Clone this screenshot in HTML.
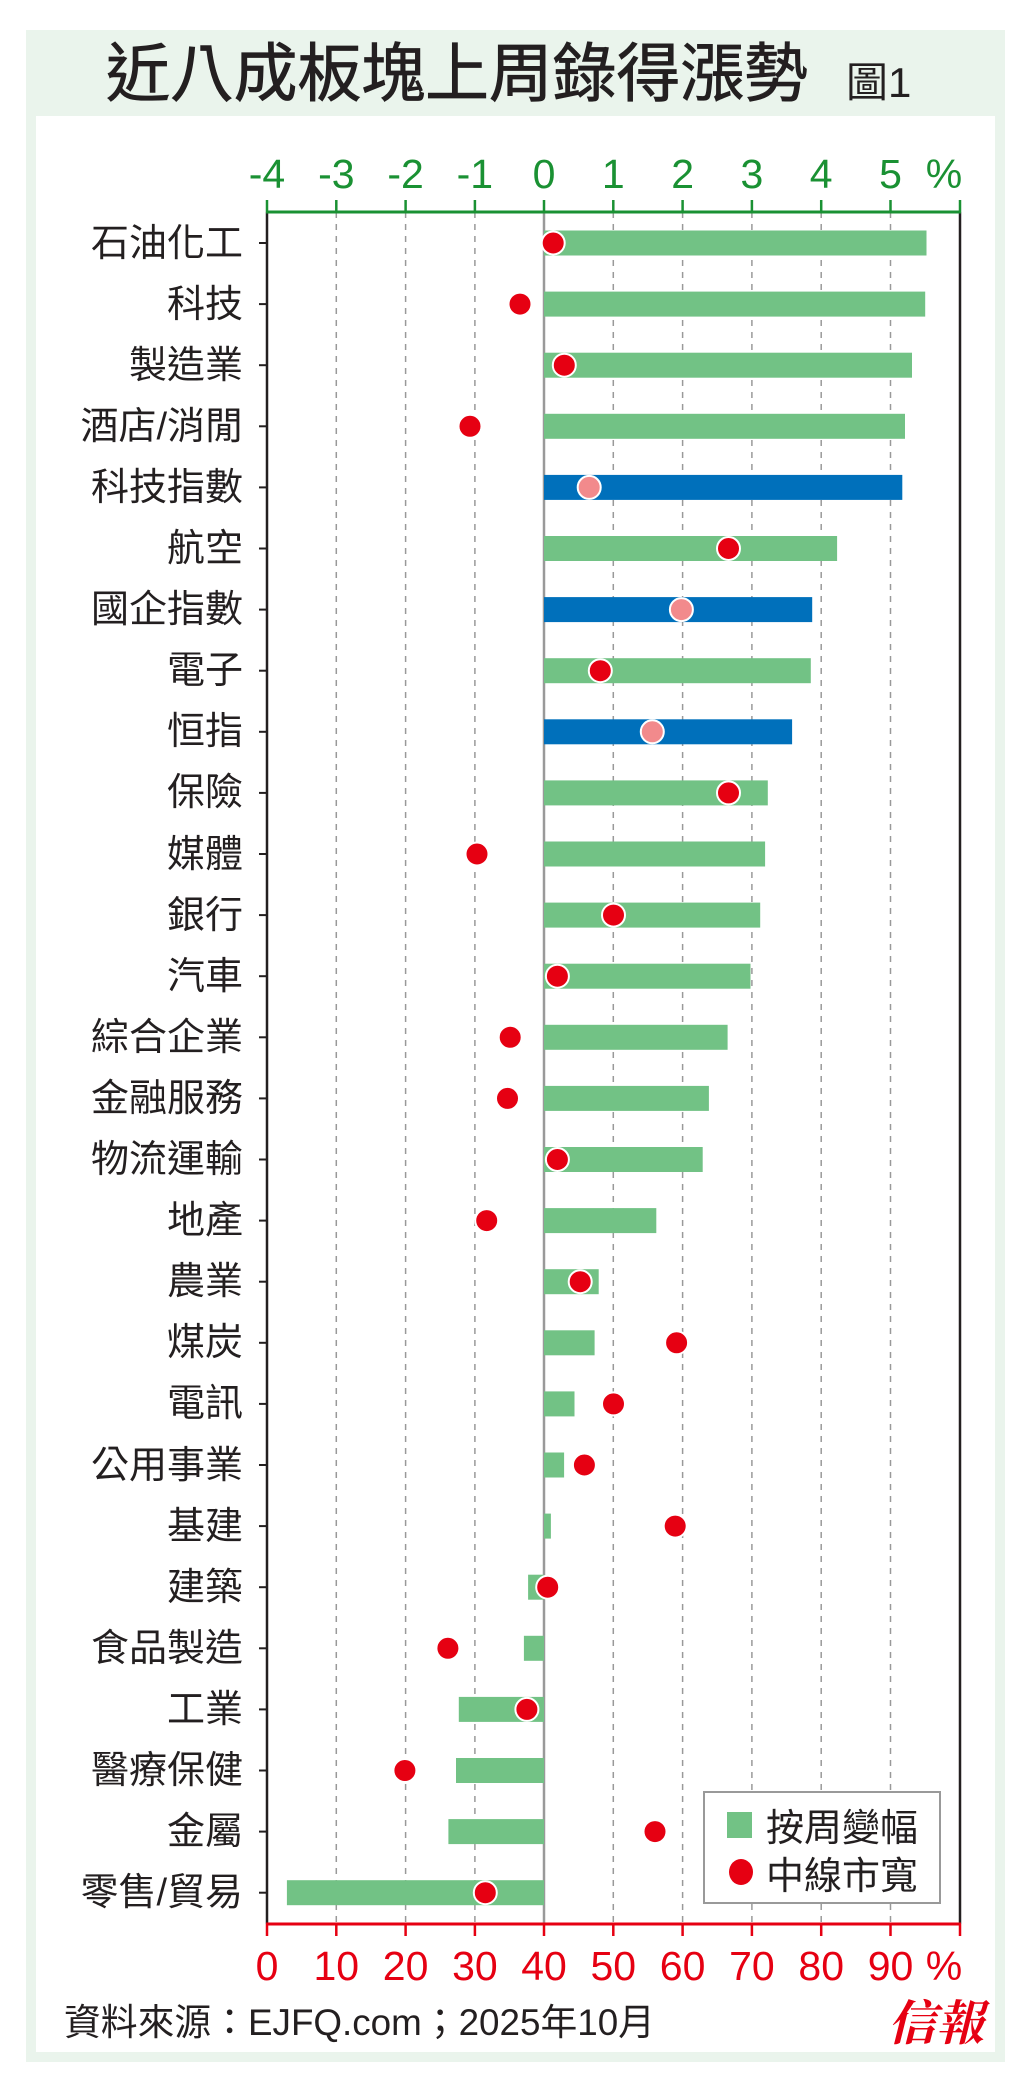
<!DOCTYPE html>
<html><head><meta charset="utf-8"><style>
html,body{margin:0;padding:0;background:#fff}
svg{display:block}
text{font-family:"Liberation Sans","Noto Sans CJK TC",sans-serif}
</style></head><body>
<svg width="1024" height="2091" viewBox="0 0 1024 2091" xmlns="http://www.w3.org/2000/svg">
<rect x="26" y="30" width="979" height="2032" fill="#eaf4ec"/>
<rect x="36" y="116" width="959" height="1936" fill="#fff"/>
<text x="106" y="96" font-size="64" fill="#231f20" stroke="#231f20" stroke-width="0.8" textLength="702" lengthAdjust="spacingAndGlyphs">近八成板塊上周錄得漲勢</text>
<text x="846" y="97" font-size="42" fill="#231f20">圖1</text>
<g transform="translate(-2,0)">
<g stroke="#999" stroke-width="1.5" stroke-dasharray="6,6">
<line x1="338.3" y1="212" x2="338.3" y2="1924"/><line x1="407.6" y1="212" x2="407.6" y2="1924"/><line x1="476.9" y1="212" x2="476.9" y2="1924"/>
<line x1="615.3" y1="212" x2="615.3" y2="1924"/><line x1="684.6" y1="212" x2="684.6" y2="1924"/><line x1="753.9" y1="212" x2="753.9" y2="1924"/><line x1="823.2" y1="212" x2="823.2" y2="1924"/><line x1="892.5" y1="212" x2="892.5" y2="1924"/>
</g>
<line x1="546" y1="212" x2="546" y2="1924" stroke="#999" stroke-width="2.5"/>
<g fill="#72c285">
<rect x="546" y="230.5" width="382.5" height="25"/>
<rect x="546" y="291.6" width="381.2" height="25"/>
<rect x="546" y="352.7" width="368" height="25"/>
<rect x="546" y="413.8" width="361" height="25"/>
<rect x="546" y="536" width="293.1" height="25"/>
<rect x="546" y="658.2" width="266.8" height="25"/>
<rect x="546" y="780.4" width="223.8" height="25"/>
<rect x="546" y="841.5" width="221.1" height="25"/>
<rect x="546" y="902.6" width="216.2" height="25"/>
<rect x="546" y="963.7" width="206.5" height="25"/>
<rect x="546" y="1024.8" width="183.6" height="25"/>
<rect x="546" y="1085.9" width="164.9" height="25"/>
<rect x="546" y="1147" width="158.7" height="25"/>
<rect x="546" y="1208.1" width="112.3" height="25"/>
<rect x="546" y="1269.2" width="54.7" height="25"/>
<rect x="546" y="1330.3" width="50.6" height="25"/>
<rect x="546" y="1391.4" width="30.5" height="25"/>
<rect x="546" y="1452.5" width="20.1" height="25"/>
<rect x="546" y="1513.6" width="6.9" height="25"/>
<rect x="530.1" y="1574.7" width="15.9" height="25"/>
<rect x="525.9" y="1635.8" width="20.1" height="25"/>
<rect x="460.8" y="1696.9" width="85.2" height="25"/>
<rect x="458" y="1758" width="88" height="25"/>
<rect x="450.4" y="1819.1" width="95.6" height="25"/>
<rect x="288.9" y="1880.2" width="257.1" height="25"/>
</g>
<g fill="#0070bb">
<rect x="546" y="474.9" width="358.3" height="25"/>
<rect x="546" y="597.1" width="268.2" height="25"/>
<rect x="546" y="719.3" width="248.1" height="25"/>
</g>
<g fill="#e60012" stroke="#fff" stroke-width="2">
<circle cx="555.2" cy="243" r="11.5"/><circle cx="522" cy="304.1" r="11.5"/><circle cx="566.3" cy="365.2" r="11.5"/><circle cx="472" cy="426.3" r="11.5"/>
<circle cx="730.5" cy="548.5" r="11.5"/><circle cx="602.3" cy="670.7" r="11.5"/><circle cx="730.5" cy="792.9" r="11.5"/><circle cx="479" cy="854" r="11.5"/>
<circle cx="615.5" cy="915.1" r="11.5"/><circle cx="559.4" cy="976.2" r="11.5"/><circle cx="512.2" cy="1037.3" r="11.5"/><circle cx="509.5" cy="1098.4" r="11.5"/>
<circle cx="559.4" cy="1159.5" r="11.5"/><circle cx="488.7" cy="1220.6" r="11.5"/><circle cx="582.2" cy="1281.7" r="11.5"/><circle cx="678.6" cy="1342.8" r="11.5"/>
<circle cx="615.5" cy="1403.9" r="11.5"/><circle cx="586.4" cy="1465" r="11.5"/><circle cx="677.2" cy="1526.1" r="11.5"/><circle cx="549.7" cy="1587.2" r="11.5"/>
<circle cx="449.9" cy="1648.3" r="11.5"/><circle cx="528.9" cy="1709.4" r="11.5"/><circle cx="406.9" cy="1770.5" r="11.5"/><circle cx="657" cy="1831.6" r="11.5"/>
<circle cx="487.3" cy="1892.7" r="11.5"/>
</g>
<g fill="#f28a8c" stroke="#fff" stroke-width="2">
<circle cx="591.2" cy="487.4" r="11.5"/><circle cx="683.4" cy="609.6" r="11.5"/><circle cx="654.3" cy="731.8" r="11.5"/>
</g>
<line x1="269" y1="212" x2="269" y2="1924" stroke="#231f20" stroke-width="2.5"/>
<line x1="962" y1="212" x2="962" y2="1924" stroke="#231f20" stroke-width="2.5"/>
<line x1="268" y1="212" x2="963" y2="212" stroke="#1a9133" stroke-width="3"/>
<line x1="268" y1="1924" x2="963" y2="1924" stroke="#e60012" stroke-width="3"/>
<g stroke="#1a9133" stroke-width="2.5">
<line x1="269" y1="200" x2="269" y2="212"/><line x1="338.3" y1="200" x2="338.3" y2="212"/><line x1="407.6" y1="200" x2="407.6" y2="212"/><line x1="476.9" y1="200" x2="476.9" y2="212"/><line x1="546" y1="200" x2="546" y2="212"/><line x1="615.3" y1="200" x2="615.3" y2="212"/><line x1="684.6" y1="200" x2="684.6" y2="212"/><line x1="753.9" y1="200" x2="753.9" y2="212"/><line x1="823.2" y1="200" x2="823.2" y2="212"/><line x1="892.5" y1="200" x2="892.5" y2="212"/><line x1="962" y1="200" x2="962" y2="212"/>
</g>
<g stroke="#e60012" stroke-width="2.5">
<line x1="269" y1="1924" x2="269" y2="1936"/><line x1="338.3" y1="1924" x2="338.3" y2="1936"/><line x1="407.6" y1="1924" x2="407.6" y2="1936"/><line x1="476.9" y1="1924" x2="476.9" y2="1936"/><line x1="546" y1="1924" x2="546" y2="1936"/><line x1="615.3" y1="1924" x2="615.3" y2="1936"/><line x1="684.6" y1="1924" x2="684.6" y2="1936"/><line x1="753.9" y1="1924" x2="753.9" y2="1936"/><line x1="823.2" y1="1924" x2="823.2" y2="1936"/><line x1="892.5" y1="1924" x2="892.5" y2="1936"/><line x1="962" y1="1924" x2="962" y2="1936"/>
</g>
<g fill="#1a9133" font-size="41" text-anchor="middle">
<text x="269" y="188">-4</text><text x="338.3" y="188">-3</text><text x="407.6" y="188">-2</text><text x="476.9" y="188">-1</text><text x="546" y="188">0</text><text x="615.3" y="188">1</text><text x="684.6" y="188">2</text><text x="753.9" y="188">3</text><text x="823.2" y="188">4</text><text x="892.5" y="188">5</text><text x="946" y="188">%</text>
</g>
<g fill="#e60012" font-size="41" text-anchor="middle">
<text x="269" y="1980">0</text><text x="338.3" y="1980">10</text><text x="407.6" y="1980">20</text><text x="476.9" y="1980">30</text><text x="546" y="1980">40</text><text x="615.3" y="1980">50</text><text x="684.6" y="1980">60</text><text x="753.9" y="1980">70</text><text x="823.2" y="1980">80</text><text x="892.5" y="1980">90</text><text x="946" y="1980">%</text>
</g>
<rect x="706" y="1792" width="236" height="111" fill="#fff" stroke="#999" stroke-width="2"/>
<rect x="729" y="1812" width="25" height="26" fill="#72c285"/>
<ellipse cx="743" cy="1872" rx="12" ry="13" fill="#e60012"/>
<text x="768" y="1841" font-size="38" fill="#231f20">按周變幅</text>
<text x="768" y="1889" font-size="38" fill="#231f20">中線市寬</text>
</g>
<g font-size="38" fill="#231f20" text-anchor="end">
<text x="243" y="256">石油化工</text><text x="243" y="317">科技</text><text x="243" y="378">製造業</text><text x="243" y="439">酒店/消閒</text>
<text x="243" y="500">科技指數</text><text x="243" y="561">航空</text><text x="243" y="622">國企指數</text><text x="243" y="683">電子</text>
<text x="243" y="744">恒指</text><text x="243" y="805">保險</text><text x="243" y="867">媒體</text><text x="243" y="928">銀行</text>
<text x="243" y="989">汽車</text><text x="243" y="1050">綜合企業</text><text x="243" y="1111">金融服務</text><text x="243" y="1172">物流運輸</text>
<text x="243" y="1233">地產</text><text x="243" y="1294">農業</text><text x="243" y="1355">煤炭</text><text x="243" y="1416">電訊</text>
<text x="243" y="1478">公用事業</text><text x="243" y="1539">基建</text><text x="243" y="1600">建築</text><text x="243" y="1661">食品製造</text>
<text x="243" y="1722">工業</text><text x="243" y="1783">醫療保健</text><text x="243" y="1844">金屬</text><text x="243" y="1905">零售/貿易</text>
</g>
<g stroke="#231f20" stroke-width="2">
<line x1="259" y1="243" x2="267" y2="243"/><line x1="259" y1="304.1" x2="267" y2="304.1"/><line x1="259" y1="365.2" x2="267" y2="365.2"/><line x1="259" y1="426.3" x2="267" y2="426.3"/><line x1="259" y1="487.4" x2="267" y2="487.4"/><line x1="259" y1="548.5" x2="267" y2="548.5"/><line x1="259" y1="609.6" x2="267" y2="609.6"/><line x1="259" y1="670.7" x2="267" y2="670.7"/><line x1="259" y1="731.8" x2="267" y2="731.8"/><line x1="259" y1="792.9" x2="267" y2="792.9"/><line x1="259" y1="854" x2="267" y2="854"/><line x1="259" y1="915.1" x2="267" y2="915.1"/><line x1="259" y1="976.2" x2="267" y2="976.2"/><line x1="259" y1="1037.3" x2="267" y2="1037.3"/><line x1="259" y1="1098.4" x2="267" y2="1098.4"/><line x1="259" y1="1159.5" x2="267" y2="1159.5"/><line x1="259" y1="1220.6" x2="267" y2="1220.6"/><line x1="259" y1="1281.7" x2="267" y2="1281.7"/><line x1="259" y1="1342.8" x2="267" y2="1342.8"/><line x1="259" y1="1403.9" x2="267" y2="1403.9"/><line x1="259" y1="1465" x2="267" y2="1465"/><line x1="259" y1="1526.1" x2="267" y2="1526.1"/><line x1="259" y1="1587.2" x2="267" y2="1587.2"/><line x1="259" y1="1648.3" x2="267" y2="1648.3"/><line x1="259" y1="1709.4" x2="267" y2="1709.4"/><line x1="259" y1="1770.5" x2="267" y2="1770.5"/><line x1="259" y1="1831.6" x2="267" y2="1831.6"/><line x1="259" y1="1892.7" x2="267" y2="1892.7"/>
</g>
<text x="64" y="2035" font-size="37" fill="#231f20" textLength="591" lengthAdjust="spacingAndGlyphs">資料來源：EJFQ.com；2025年10月</text>
<text x="888" y="2040" font-size="48" fill="#e60012" font-weight="bold" font-style="italic" style="font-family:'Liberation Serif','Noto Serif CJK SC',serif">信報</text>
</svg>
</body></html>
